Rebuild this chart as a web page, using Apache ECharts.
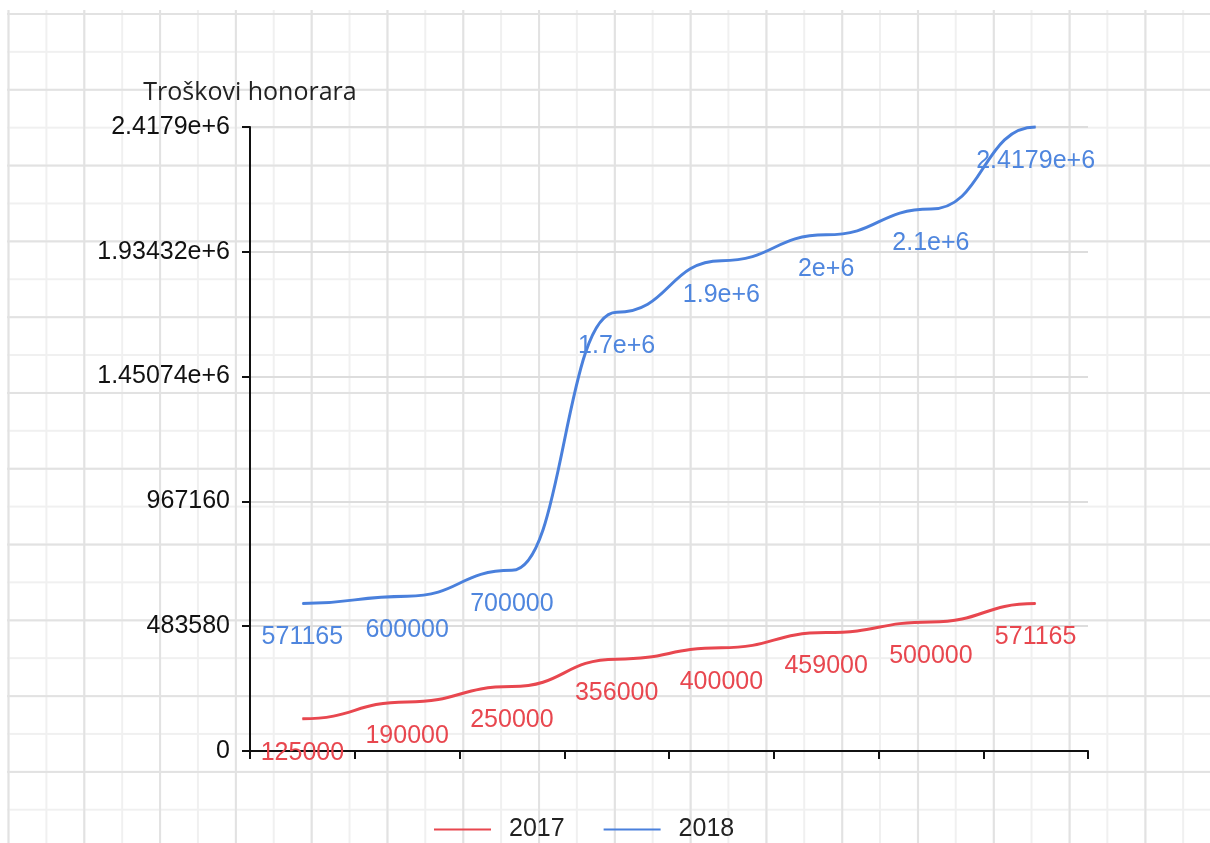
<!DOCTYPE html>
<html>
<head>
<meta charset="utf-8">
<script src="https://cdn.jsdelivr.net/npm/echarts@6/dist/echarts.min.js"></script>
<style>
  html, body { margin: 0; padding: 0; background: #ffffff; }
  #wrap { position: relative; width: 1210px; height: 843px; overflow: hidden; }
  #paper {
    position: absolute; left: 7px; top: 10px; right: 0; bottom: 0;
    background-image:
      linear-gradient(90deg, #e2e2e2 0, #e2e2e2 2px, transparent 2px),
      linear-gradient(180deg, #e2e2e2 0, #e2e2e2 2px, transparent 2px),
      linear-gradient(90deg, #f0f0f0 0, #f0f0f0 2px, transparent 2px),
      linear-gradient(180deg, #f0f0f0 0, #f0f0f0 2px, transparent 2px);
    background-size: 75.8px 100%, 100% 75.8px, 37.9px 100%, 100% 37.9px;
    background-position: 0.5px 0, 0 3px, 0.5px 0, 0 3px;
  }
  #chart { position: absolute; left: 0; top: 0; width: 1210px; height: 843px; }
</style>
</head>
<body>
<div id="wrap">
  <div id="paper"></div>
  <div id="chart"></div>
</div>
<script>
// ---- data ----
const categories = ['1', '2', '3', '4', '5', '6', '7', '8'];
const seriesNames = ['2017', '2018'];
const values2017 = [125000, 190000, 250000, 356000, 400000, 459000, 500000, 571165];
const values2018 = [571165, 600000, 700000, 1700000, 1900000, 2000000, 2100000, 2417900];
const yAxisName = 'Troškovi honorara';
const yAxisMax = 2417900;
const yTickCount = 5;

// %g-like formatting with 6 significant digits
function fmtG(v) {
  if (v === 0) return '0';
  const e = Math.floor(Math.log10(Math.abs(v)) + 1e-12);
  if (e >= 6 || e < -5) {
    const m = parseFloat((v / Math.pow(10, e)).toPrecision(6));
    return m.toString() + 'e' + (e >= 0 ? '+' : '-') + Math.abs(e);
  }
  return parseFloat(v.toPrecision(6)).toString();
}

const RED = '#e8474f';
const BLUE = '#4a80dc';
const numFont = 'Liberation Sans, Arial, sans-serif';

const chart = echarts.init(document.getElementById('chart'), null, { renderer: 'canvas' });

// Line series: carries labels and legend entry (its own stroke is hidden)
function labelSeries(name, data, color, labelColor) {
  return {
    name: name,
    type: 'line',
    data: data,
    color: color,
    symbol: 'circle',
    symbolSize: 1,
    itemStyle: { color: color },
    lineStyle: { color: color, width: 3, opacity: 0 },
    label: {
      show: true,
      position: 'bottom',
      distance: 21,
      color: labelColor,
      fontSize: 25,
      fontFamily: numFont,
      formatter: function (p) { return fmtG(p.value); }
    },
    emphasis: { disabled: true },
    z: 3
  };
}

// Curve drawn through the axis scales: S-shaped cubic segments with flat tangents at every point
function curveSeries(name, data, color) {
  return {
    name: name,
    type: 'custom',
    data: data,
    color: color,
    itemStyle: { color: color },
    encode: { x: -1, y: 0 },
    renderItem: function (params, api) {
      if (params.dataIndex !== 0) return null;
      const pts = data.map(function (v, i) { return api.coord([i, v]); });
      let d = 'M' + pts[0][0] + ' ' + pts[0][1];
      for (let i = 1; i < pts.length; i++) {
        const p0 = pts[i - 1], p1 = pts[i];
        const h = (p1[0] - p0[0]) * 0.5;
        d += ' C' + (p0[0] + h) + ' ' + p0[1] + ' ' + (p1[0] - h) + ' ' + p1[1] + ' ' + p1[0] + ' ' + p1[1];
      }
      return {
        type: 'path',
        shape: { pathData: d },
        style: { fill: 'none', stroke: color, lineWidth: 3 },
        silent: true
      };
    },
    z: 2
  };
}

chart.setOption({
  animation: false,
  backgroundColor: 'transparent',
  color: [RED, BLUE],
  grid: { left: 250, right: 122, top: 127, bottom: 92, containLabel: false },
  legend: {
    data: seriesNames,
    left: 429,
    top: 812,
    icon: 'rect',
    itemWidth: 57,
    itemHeight: 2,
    itemGap: 39,
    textStyle: { color: '#222', fontSize: 25, fontFamily: numFont, padding: [0, 0, 0, 13] }
  },
  xAxis: {
    type: 'category',
    data: categories,
    boundaryGap: true,
    axisLine: { show: true, lineStyle: { color: '#111', width: 2 } },
    axisTick: { show: true, length: 8, lineStyle: { color: '#111', width: 2 } },
    axisLabel: { show: false },
    splitLine: { show: false }
  },
  yAxis: {
    type: 'value',
    min: 0,
    max: yAxisMax,
    interval: yAxisMax / yTickCount,
    name: yAxisName,
    nameLocation: 'end',
    nameGap: 22,
    nameTextStyle: { color: '#222', fontSize: 25, fontFamily: 'Open Sans, Noto Sans, sans-serif', align: 'center' },
    axisLine: { show: true, lineStyle: { color: '#111', width: 2 } },
    axisTick: { show: true, length: 8, lineStyle: { color: '#111', width: 2 } },
    axisLabel: {
      margin: 20,
      color: '#111',
      fontSize: 25,
      fontFamily: numFont,
      formatter: function (v) { return fmtG(v); }
    },
    splitLine: { show: true, lineStyle: { color: '#dddddd', width: 2 } }
  },
  series: [
    labelSeries(seriesNames[0], values2017, RED, '#e8474f'),
    labelSeries(seriesNames[1], values2018, BLUE, '#4f86de'),
    curveSeries(seriesNames[0], values2017, RED),
    curveSeries(seriesNames[1], values2018, BLUE)
  ]
});
</script>
</body>
</html>
